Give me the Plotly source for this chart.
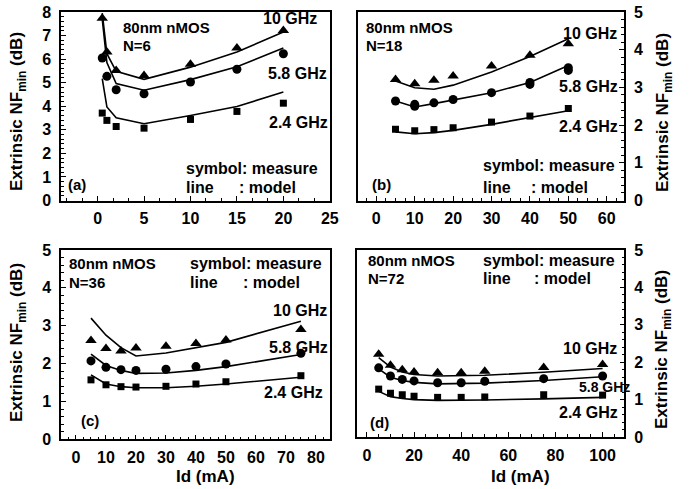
import plotly.graph_objects as go

W, H = 690, 489
FONT = "Liberation Sans"

# ---------------- data ----------------
ids_a = [0.5, 1, 2, 5, 10, 15, 20]
meas_a_10 = [7.73, 6.30, 5.52, 5.31, 5.78, 6.47, 7.22]
meas_a_58 = [6.05, 5.27, 4.70, 4.53, 5.03, 5.57, 6.23]
meas_a_24 = [3.71, 3.40, 3.14, 3.07, 3.44, 3.78, 4.13]
model_a_10 = [7.95, 6.23, 5.48, 5.14, 5.66, 6.30, 7.15]
model_a_58 = [7.70, 5.85, 4.96, 4.68, 5.13, 5.68, 6.47]
model_a_24 = [5.17, 3.97, 3.51, 3.26, 3.61, 3.99, 4.60]

ids_b = [5, 10, 15, 20, 30, 40, 50]
meas_b_10 = [3.21, 3.10, 3.19, 3.30, 3.57, 3.85, 4.16]
meas_b_58 = [2.64, 2.50, 2.59, 2.68, 2.86, 3.13, 3.52]
ids_b_rep = [10, 40, 50]
meas_b_58_rep = [2.55, 3.08, 3.45]
meas_b_24 = [1.89, 1.85, 1.88, 1.93, 2.08, 2.24, 2.44]
model_b_10 = [3.17, 2.99, 2.95, 3.06, 3.41, 3.82, 4.29]
model_b_58 = [2.64, 2.48, 2.57, 2.67, 2.86, 3.13, 3.58]
model_b_24 = [1.82, 1.77, 1.80, 1.86, 2.02, 2.20, 2.38]

ids_c = [5, 10, 15, 20, 30, 40, 50, 75]
meas_c_10 = [2.61, 2.40, 2.33, 2.41, 2.46, 2.53, 2.62, 2.90]
meas_c_58 = [2.07, 1.90, 1.84, 1.82, 1.85, 1.92, 1.99, 2.27]
meas_c_24 = [1.57, 1.44, 1.39, 1.38, 1.40, 1.46, 1.52, 1.68]
model_c_10 = [3.20, 2.75, 2.42, 2.20, 2.28, 2.42, 2.56, 3.12]
model_c_58 = [2.25, 1.95, 1.82, 1.74, 1.75, 1.82, 1.92, 2.24]
model_c_24 = [1.70, 1.46, 1.39, 1.36, 1.36, 1.40, 1.46, 1.64]

ids_d = [5, 10, 15, 20, 30, 40, 50, 75, 100]
meas_d_10 = [2.21, 1.92, 1.80, 1.74, 1.72, 1.72, 1.76, 1.86, 1.94]
meas_d_58 = [1.85, 1.63, 1.54, 1.50, 1.45, 1.45, 1.49, 1.56, 1.63]
meas_d_24 = [1.28, 1.17, 1.13, 1.09, 1.06, 1.06, 1.07, 1.13, 1.12]
model_d_10 = [2.12, 1.87, 1.74, 1.67, 1.63, 1.63, 1.65, 1.73, 1.83]
model_d_58 = [1.82, 1.60, 1.51, 1.46, 1.42, 1.42, 1.44, 1.51, 1.61]
model_d_24 = [1.22, 1.08, 1.03, 1.00, 0.98, 0.98, 0.99, 1.02, 1.06]

freq_labels = ["10 GHz", "5.8 GHz", "2.4 GHz"]
y_title = "Extrinsic NF<sub>min</sub> (dB)"
x_title = "Id (mA)"

def px(x):
    return x / W

def py(y):
    return 1 - y / H

fig = go.Figure()

panels = [
    dict(n="", ids=ids_a, meas=[meas_a_10, meas_a_58, meas_a_24],
         model=[model_a_10, model_a_58, model_a_24]),
    dict(n="2", ids=ids_b, meas=[meas_b_10, meas_b_58, meas_b_24],
         model=[model_b_10, model_b_58, model_b_24]),
    dict(n="3", ids=ids_c, meas=[meas_c_10, meas_c_58, meas_c_24],
         model=[model_c_10, model_c_58, model_c_24]),
    dict(n="4", ids=ids_d, meas=[meas_d_10, meas_d_58, meas_d_24],
         model=[model_d_10, model_d_58, model_d_24]),
]
symbols = ["triangle-up", "circle", "square"]
sizes = [10, 9, 7]

for p in panels:
    xa, ya = "x" + p["n"], "y" + p["n"]
    for m in p["model"]:
        fig.add_trace(go.Scatter(x=p["ids"], y=m, mode="lines", xaxis=xa, yaxis=ya,
                                 line=dict(color="black", width=1.6), showlegend=False,
                                 cliponaxis=True))
    for m, s, sz in zip(p["meas"], symbols, sizes):
        fig.add_trace(go.Scatter(x=p["ids"], y=m, mode="markers", xaxis=xa, yaxis=ya,
                                 marker=dict(symbol=s, size=sz, color="black"),
                                 showlegend=False, cliponaxis=False))

fig.add_trace(go.Scatter(x=ids_b_rep, y=meas_b_58_rep, mode="markers", xaxis="x2", yaxis="y2",
                         marker=dict(symbol="circle", size=9, color="black"), showlegend=False))

tickfont = dict(family=FONT, size=16, color="black", weight="bold")

def xaxis(dom, rng, dtick, minor_dtick, anchor):
    return dict(domain=dom, range=rng, dtick=dtick, tick0=0, anchor=anchor,
                showline=True, linecolor="black", linewidth=1.5, mirror=True,
                ticks="inside", ticklen=5, tickwidth=1.2, tickcolor="black",
                minor=dict(ticks="inside", ticklen=3, dtick=minor_dtick, tick0=0,
                           tickcolor="black", tickwidth=1),
                showgrid=False, zeroline=False, tickfont=tickfont,
                ticklabelstandoff=3, automargin=False)

def yaxis(dom, rng, anchor, side):
    return dict(domain=dom, range=rng, dtick=1, tick0=0, anchor=anchor, side=side,
                showline=True, linecolor="black", linewidth=1.5, mirror=True,
                ticks="inside", ticklen=5, tickwidth=1.2, tickcolor="black",
                minor=dict(ticks="inside", ticklen=3, dtick=0.2, tick0=0,
                           tickcolor="black", tickwidth=1),
                showgrid=False, zeroline=False, tickfont=tickfont,
                ticklabelstandoff=5, automargin=False)

top_dom = [py(200.5), py(12)]
bot_dom_c = [py(439.3), py(250)]
bot_dom_d = [py(437), py(250)]

fig.update_layout(
    width=W, height=H, margin=dict(l=0, r=0, t=0, b=0, pad=0, autoexpand=False),
    paper_bgcolor="white", plot_bgcolor="white",
    font=dict(family=FONT, color="black"),
    xaxis=xaxis([px(61), px(330)], [-3.94, 25.02], 5, 5 / 3, "y"),
    yaxis=yaxis(top_dom, [0, 8], "x", "left"),
    xaxis2=xaxis([px(357.5), px(624)], [-4.9, 64.5], 10, 2.5, "y2"),
    yaxis2=yaxis(top_dom, [0, 5], "x2", "right"),
    xaxis3=xaxis([px(61), px(330)], [-5, 84.7], 10, 2.5, "y3"),
    yaxis3=yaxis(bot_dom_c, [0, 5], "x3", "left"),
    xaxis4=xaxis([px(357), px(624.3)], [-4.2, 109.2], 20, 5, "y4"),
    yaxis4=yaxis(bot_dom_d, [0, 5], "x4", "right"),
)

ann = []

def txt(t, x, y, size=16, xanchor="left", angle=0):
    ann.append(dict(text="<b>" + t + "</b>", x=px(x), y=py(y), xref="paper", yref="paper",
                    xanchor=xanchor, yanchor="middle", showarrow=False, textangle=angle,
                    font=dict(family=FONT, size=size, color="black")))

# panel a
txt("80nm nMOS", 121, 27, 15)
txt("N=6", 121, 45, 15)
txt(freq_labels[0], 261, 19)
txt(freq_labels[1], 266, 73)
txt(freq_labels[2], 267, 122)
txt("symbol: measure", 184, 168)
txt("line", 184, 188)
txt(": model", 237, 188)
txt("(a)", 66, 185, 15)
# panel b
txt("80nm nMOS", 364, 27, 15)
txt("N=18", 364, 45, 15)
txt(freq_labels[0], 561, 33)
txt(freq_labels[1], 557, 86)
txt(freq_labels[2], 557, 126)
txt("symbol: measure", 481, 165)
txt("line", 481, 188)
txt(": model", 529, 188)
txt("(b)", 370, 185, 15)
# panel c
txt("80nm nMOS", 67, 263, 15)
txt("N=36", 67, 282, 15)
txt("symbol: measure", 188, 263)
txt("line", 188, 282)
txt(": model", 241, 282)
txt(freq_labels[0], 271, 310)
txt(freq_labels[1], 267, 347)
txt(freq_labels[2], 262, 392)
txt("(c)", 79, 420, 15)
# panel d
txt("80nm nMOS", 366, 260, 15)
txt("N=72", 366, 278, 15)
txt("symbol: measure", 481, 260)
txt("line", 481, 278)
txt(": model", 532, 278)
txt(freq_labels[0], 561, 348)
txt(freq_labels[1], 577, 387, 14)
txt(freq_labels[2], 557, 412)
txt("(d)", 368, 422, 15)

# axis titles
txt(y_title, 18, 112, 17, "center", -90)
txt(y_title, 18, 343, 17, "center", -90)
txt(y_title, 664, 113, 17, "center", -90)
txt(y_title, 663, 350, 17, "center", -90)
txt(x_title, 205, 476.5, 17, "center")
txt(x_title, 520, 476.5, 17, "center")

fig.update_layout(annotations=ann)
fig.write_html("out.html")
